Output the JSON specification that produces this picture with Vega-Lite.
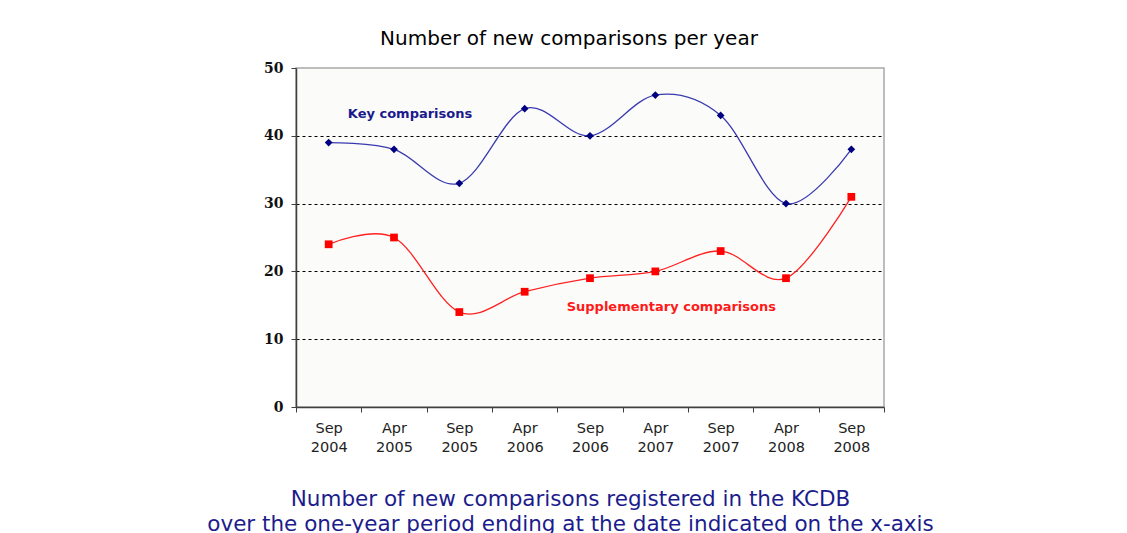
{
  "$schema": "https://vega.github.io/schema/vega-lite/v6.json",
  "width": 588,
  "height": 339,
  "autosize": {"type": "none"},
  "padding": {"left": 296, "top": 68, "right": 243, "bottom": 126},
  "background": "#ffffff",
  "title": {
    "text": "Number of new comparisons per year",
    "font": "DejaVu Sans",
    "fontSize": 20,
    "fontWeight": "normal",
    "color": "#000000",
    "anchor": "middle",
    "dx": -21,
    "offset": 12
  },
  "config": {
    "view": {"stroke": "#a8a8a8", "strokeWidth": 1.5, "fill": "#fbfcf9"}
  },
  "datasets": {
    "series": [
      {"period": "Sep 2004", "series": "Key", "value": 39},
      {"period": "Apr 2005", "series": "Key", "value": 38},
      {"period": "Sep 2005", "series": "Key", "value": 33},
      {"period": "Apr 2006", "series": "Key", "value": 44},
      {"period": "Sep 2006", "series": "Key", "value": 40},
      {"period": "Apr 2007", "series": "Key", "value": 46},
      {"period": "Sep 2007", "series": "Key", "value": 43},
      {"period": "Apr 2008", "series": "Key", "value": 30},
      {"period": "Sep 2008", "series": "Key", "value": 38},
      {"period": "Sep 2004", "series": "Supplementary", "value": 24},
      {"period": "Apr 2005", "series": "Supplementary", "value": 25},
      {"period": "Sep 2005", "series": "Supplementary", "value": 14},
      {"period": "Apr 2006", "series": "Supplementary", "value": 17},
      {"period": "Sep 2006", "series": "Supplementary", "value": 19},
      {"period": "Apr 2007", "series": "Supplementary", "value": 20},
      {"period": "Sep 2007", "series": "Supplementary", "value": 23},
      {"period": "Apr 2008", "series": "Supplementary", "value": 19},
      {"period": "Sep 2008", "series": "Supplementary", "value": 31}
    ],
    "labels": [
      {"period": "Apr 2005", "series": "Key", "value": 43.2, "label": "Key comparisons"},
      {"period": "Apr 2007", "series": "Supplementary", "value": 14.8, "label": "Supplementary comparisons"}
    ]
  },
  "encoding": {
    "x": {
      "field": "period",
      "type": "nominal",
      "sort": ["Sep 2004", "Apr 2005", "Sep 2005", "Apr 2006", "Sep 2006", "Apr 2007", "Sep 2007", "Apr 2008", "Sep 2008"],
      "scale": {"paddingInner": 0, "paddingOuter": 0},
      "axis": {
        "labelAngle": 0,
        "labelExpr": "split(datum.label, ' ')",
        "labelFont": "DejaVu Sans",
        "labelFontSize": 14.5,
        "labelColor": "#222222",
        "labelLineHeight": 19,
        "labelPadding": 9,
        "tickBand": "extent",
        "tickSize": 5,
        "tickColor": "#404040",
        "domainColor": "#404040",
        "domainWidth": 1.5,
        "grid": false,
        "title": ["Number of new comparisons registered in the KCDB", "over the one-year period ending at the date indicated on the x-axis"],
        "titleFont": "DejaVu Sans",
        "titleFontSize": 21.5,
        "titleFontWeight": "normal",
        "titleColor": "#1c1c8c",
        "titleLineHeight": 25,
        "titleX": 274,
        "titleY": 81,
        "titleAlign": "center",
        "titleBaseline": "top"
      }
    },
    "y": {
      "field": "value",
      "type": "quantitative",
      "scale": {"domain": [0, 50], "nice": false, "zero": true},
      "axis": {
        "values": [0, 10, 20, 30, 40, 50],
        "labelFont": "DejaVu Serif",
        "labelFontSize": 14,
        "labelFontWeight": "bold",
        "labelColor": "#111111",
        "labelPadding": 8,
        "tickSize": 5,
        "tickColor": "#404040",
        "domainColor": "#404040",
        "domainWidth": 1.5,
        "grid": true,
        "gridColor": "#000000",
        "gridDash": [3, 3],
        "gridOpacity": {"condition": {"test": "datum.value == 50 || datum.value == 0", "value": 0}, "value": 1},
        "title": null
      }
    }
  },
  "layer": [
    {
      "data": {"name": "series"},
      "mark": {"type": "line", "interpolate": "cardinal", "strokeWidth": 1.3},
      "encoding": {
        "color": {
          "field": "series",
          "type": "nominal",
          "scale": {"domain": ["Key", "Supplementary"], "range": ["#3a3ab0", "#ff2020"]},
          "legend": null
        }
      }
    },
    {
      "data": {"name": "series"},
      "mark": {"type": "point", "filled": true, "size": 60, "opacity": 1},
      "encoding": {
        "shape": {
          "field": "series",
          "type": "nominal",
          "scale": {"domain": ["Key", "Supplementary"], "range": ["diamond", "square"]},
          "legend": null
        },
        "fill": {
          "field": "series",
          "type": "nominal",
          "scale": {"domain": ["Key", "Supplementary"], "range": ["#000080", "#ff0000"]},
          "legend": null
        }
      }
    },
    {
      "data": {"name": "labels"},
      "mark": {"type": "text", "font": "DejaVu Sans", "fontSize": 13, "fontWeight": "bold", "align": "center", "baseline": "middle", "dx": 16},
      "encoding": {
        "text": {"field": "label"},
        "color": {
          "field": "series",
          "type": "nominal",
          "scale": {"domain": ["Key", "Supplementary"], "range": ["#1a1a8c", "#ff1a1a"]},
          "legend": null
        }
      }
    }
  ],
  "resolve": {"scale": {"color": "independent"}}
}
